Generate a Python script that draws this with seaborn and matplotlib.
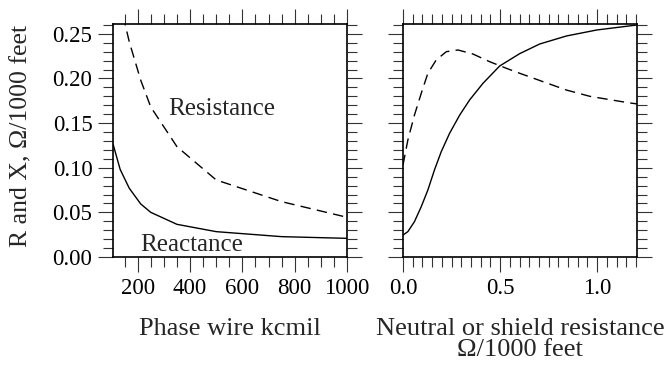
import matplotlib
matplotlib.use("Agg")
import matplotlib.pyplot as plt
import seaborn as sns
from matplotlib.ticker import MultipleLocator, FormatStrFormatter, FixedLocator

# ---- data ----
kcmil = [105.6, 133.1, 167.8, 211.6, 250, 350, 500, 750, 1000]
phase_resistance = [0.34, 0.284, 0.241, 0.198, 0.168, 0.1236, 0.0863, 0.062, 0.0445]
phase_reactance = [0.1266, 0.098, 0.077, 0.0594, 0.050, 0.0366, 0.0284, 0.0228, 0.0209]

neutral_x_react = [0.0, 0.025, 0.059, 0.094, 0.128, 0.162, 0.197, 0.240, 0.292, 0.343,
                   0.412, 0.498, 0.601, 0.704, 0.842, 0.998, 1.205]
neutral_react = [0.0246, 0.0284, 0.0396, 0.0564, 0.075, 0.0975, 0.118, 0.1386, 0.159, 0.1759,
                 0.1946, 0.2140, 0.2278, 0.2386, 0.2476, 0.2543, 0.2599]

neutral_x_res = [0.0, 0.025, 0.059, 0.094, 0.128, 0.171, 0.223, 0.283, 0.360, 0.446,
                 0.532, 0.601, 0.721, 0.842, 0.962, 1.16, 1.205]
neutral_res = [0.103, 0.131, 0.159, 0.1834, 0.2058, 0.2207, 0.230, 0.2319, 0.2274, 0.2188,
               0.2114, 0.2058, 0.1964, 0.187, 0.180, 0.1728, 0.1715]

y_ticks = [0.00, 0.05, 0.10, 0.15, 0.20, 0.25]
left_xticks = [200, 400, 600, 800, 1000]
right_xticks = [0.0, 0.5, 1.0]

sns.set_style("ticks")
plt.rcParams['font.family'] = ['Liberation Serif', 'DejaVu Serif']

fig = plt.figure(figsize=(6.66, 3.68), dpi=100)
axL = fig.add_axes([113/666, 1-257/368, 234/666, 233/368])
axR = fig.add_axes([403/666, 1-257/368, 234/666, 233/368])

dash = (0, (7.5, 4.5))
lw = 1.0

sns.lineplot(x=kcmil, y=phase_resistance, ax=axL, color='black', linewidth=lw, linestyle=dash)
sns.lineplot(x=kcmil, y=phase_reactance, ax=axL, color='black', linewidth=lw)
sns.lineplot(x=neutral_x_res, y=neutral_res, ax=axR, color='black', linewidth=lw, linestyle=dash)
sns.lineplot(x=neutral_x_react, y=neutral_react, ax=axR, color='black', linewidth=lw)

for ax in (axL, axR):
    ax.set_ylim(0, 0.261)
    ax.yaxis.set_major_locator(FixedLocator(y_ticks))
    ax.yaxis.set_minor_locator(MultipleLocator(0.01))
    ax.yaxis.set_major_formatter(FormatStrFormatter('%.2f'))
    for s in ax.spines.values():
        s.set_visible(True)
        s.set_linewidth(1.2)
        s.set_color('black')
    ax.tick_params(which='both', direction='out', top=True, right=True, bottom=True, left=True,
                   color='#333333', width=0.8, labelsize=16.5, labelcolor='black', pad=4)
    ax.tick_params(which='major', length=10.8)
    ax.tick_params(which='minor', length=7.2)
    ax.set_facecolor('white')

axL.set_xlim(105.6, 1000)
axL.xaxis.set_major_locator(FixedLocator(left_xticks))
axL.xaxis.set_minor_locator(MultipleLocator(50))
axL.set_xticklabels([str(v) for v in left_xticks])

axR.set_xlim(0, 1.205)
axR.xaxis.set_major_locator(FixedLocator(right_xticks))
axR.xaxis.set_minor_locator(MultipleLocator(0.05))
axR.set_xticklabels([f'{v:.1f}' for v in right_xticks])
axR.tick_params(labelleft=False)

axL.set_ylabel('R and X, Ω/1000 feet', fontsize=18.5)
axL.yaxis.set_label_coords(-0.346, 0.52)
axL.set_xlabel('Phase wire kcmil', fontsize=19, labelpad=14)
axR.set_xlabel('Neutral or shield resistance\nΩ/1000 feet', fontsize=19, labelpad=14, linespacing=0.95)
axR.set_ylabel('')

axL.text(316, 0.159, 'Resistance', fontsize=18, va='baseline', ha='left')
axL.text(209, 0.0067, 'Reactance', fontsize=18, va='baseline', ha='left')

fig.savefig('out.png', dpi=100, facecolor='white')
